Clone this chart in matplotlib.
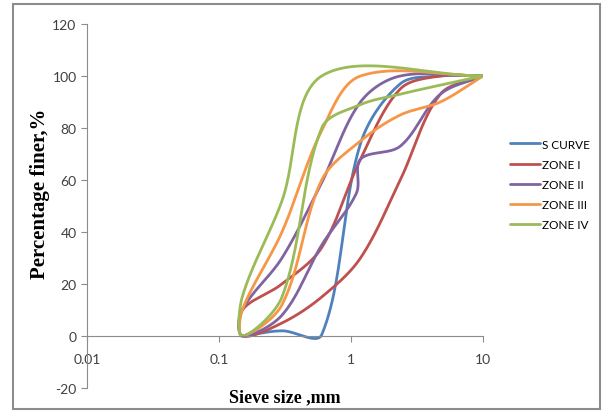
import numpy as np
import matplotlib
matplotlib.use("Agg")
import matplotlib.pyplot as plt
from matplotlib.patches import Rectangle

plt.rcParams["axes.unicode_minus"] = False

# ---- data (sieve size mm, % finer) ----
s_curve_x = [0.15, 0.3, 0.6, 1.18, 2.36, 4.75, 10]
s_curve = [0, 2, 0.5, 74, 97, 100, 100]

zone1_upper_x = [0.15, 0.3, 0.6, 1.18, 2.36, 4.75, 10]
zone1_upper = [10, 20, 34, 68, 95, 100, 100]
zone1_lower_x = [0.15, 0.3, 0.6, 1.18, 2.36, 4.75, 10]
zone1_lower = [0, 5, 15, 30, 60, 93, 100]

zone2_upper_x = [0.15, 0.3, 0.6, 1.18, 2.36, 10]
zone2_upper = [10, 30, 59, 90, 100, 100]
zone2_lower_x = [0.15, 0.3, 0.6, 1.1, 1.18, 2.36, 4.75, 10]
zone2_lower = [0, 8, 35, 55, 68, 73, 93, 100]

zone3_upper_x = [0.15, 0.3, 0.6, 1.18, 10]
zone3_upper = [10, 40, 79, 100, 100]
zone3_lower_x = [0.15, 0.3, 0.6, 1.18, 2.36, 4.75, 10]
zone3_lower = [0, 12, 60, 75, 85, 90, 100]

zone4_upper_x = [0.15, 0.3, 0.6, 10]
zone4_upper = [15, 52, 100, 100]
zone4_lower_x = [0.15, 0.3, 0.6, 1.18, 2.36, 4.75, 10]
zone4_lower = [0, 15, 80, 89, 93, 96.5, 100]

names = ["S CURVE", "ZONE I", "ZONE II", "ZONE III", "ZONE IV"]
colors = ["#4F81BD", "#C0504D", "#8064A2", "#F79646", "#9BBB59"]

K = 132 / 2.6  # px per decade / px per % -> aspect used for smoothing


def smooth(xs, ys, n=50):
    """Excel-like smoothed line: Bezier segments, tangents weighted by segment lengths."""
    P = np.column_stack([np.log10(np.asarray(xs, float)) * K, np.asarray(ys, float)])
    m = len(P)
    t = np.linspace(0, 1, n)[:, None]
    out = []
    for i in range(m - 1):
        p1, p2 = P[i], P[i + 1]
        p0 = P[i - 1] if i > 0 else p1
        p3 = P[i + 2] if i + 2 < m else p2
        d01 = np.hypot(*(p1 - p0))
        d12 = np.hypot(*(p2 - p1))
        d23 = np.hypot(*(p3 - p2))
        w1 = d12 / (d01 + d12) if d01 + d12 > 0 else 0
        w2 = d12 / (d12 + d23) if d12 + d23 > 0 else 0
        c1 = p1 + (p2 - p0) * w1 / 3.0
        c2 = p2 - (p3 - p1) * w2 / 3.0
        seg = ((1 - t) ** 3) * p1 + 3 * ((1 - t) ** 2) * t * c1 + 3 * (1 - t) * t ** 2 * c2 + t ** 3 * p2
        out.append(seg if i == 0 else seg[1:])
    out = np.vstack(out)
    return 10 ** (out[:, 0] / K), out[:, 1]


def loop(xu, yu, xl, yl):
    return list(xu[::-1]) + list(xl), list(yu[::-1]) + list(yl)


series = [
    (s_curve_x, s_curve),
    loop(zone1_upper_x, zone1_upper, zone1_lower_x, zone1_lower),
    loop(zone2_upper_x, zone2_upper, zone2_lower_x, zone2_lower),
    loop(zone3_upper_x, zone3_upper, zone3_lower_x, zone3_lower),
    loop(zone4_upper_x, zone4_upper, zone4_lower_x, zone4_lower),
]

fig = plt.figure(figsize=(6.03, 4.14), dpi=100)
ax = fig.add_axes([87 / 603, 25 / 414, (483 - 87) / 603, (389 - 25) / 414])

for (xs, ys), name, c in zip(series, names, colors):
    sx, sy = smooth(xs, ys)
    ax.plot(sx, sy, color=c, lw=2.0, label=name, solid_capstyle="round")

ax.set_xscale("log")
ax.set_xlim(0.01, 10)
ax.set_ylim(-20, 120)
ax.set_yticks(range(-20, 121, 20))
ax.set_xticks([0.01, 0.1, 1, 10])
ax.set_xticklabels(["0.01", "0.1", "1", "10"])
ax.xaxis.set_minor_locator(matplotlib.ticker.NullLocator())

for s in ["top", "right"]:
    ax.spines[s].set_visible(False)
ax.spines["bottom"].set_position(("data", 0))
ax.spines["left"].set_color("#8c8c8c")
ax.spines["bottom"].set_color("#8c8c8c")
ax.tick_params(axis="both", colors="#8c8c8c", length=4, width=0.8, direction="out",
               labelcolor="#404040", labelsize=10)
ax.tick_params(axis="x", pad=8)
for lab in ax.get_xticklabels() + ax.get_yticklabels():
    lab.set_fontfamily("Lato")

fig.text(40 / 603, 1 - 194 / 414, "Percentage finer,%", fontfamily="Liberation Serif",
         fontweight="bold", fontsize=15, rotation=90, ha="center", va="center")
fig.text(285 / 603, 1 - 398 / 414, "Sieve size ,mm", fontfamily="Liberation Serif",
         fontweight="bold", fontsize=13, ha="center", va="center")

leg = ax.legend(loc="upper left", bbox_to_anchor=(499 / 603, 1 - 129 / 414),
                bbox_transform=fig.transFigure, frameon=False, handlelength=2.6,
                handletextpad=0.1, labelspacing=0.78, prop={"family": "Lato", "size": 8.5})

fig.patches.append(Rectangle((13 / 603, 4 / 414), (600 - 13) / 603, (409 - 4) / 414,
                             transform=fig.transFigure, fill=False, edgecolor="#8c8c8c",
                             lw=1.5))

fig.savefig("out.png", dpi=100)
